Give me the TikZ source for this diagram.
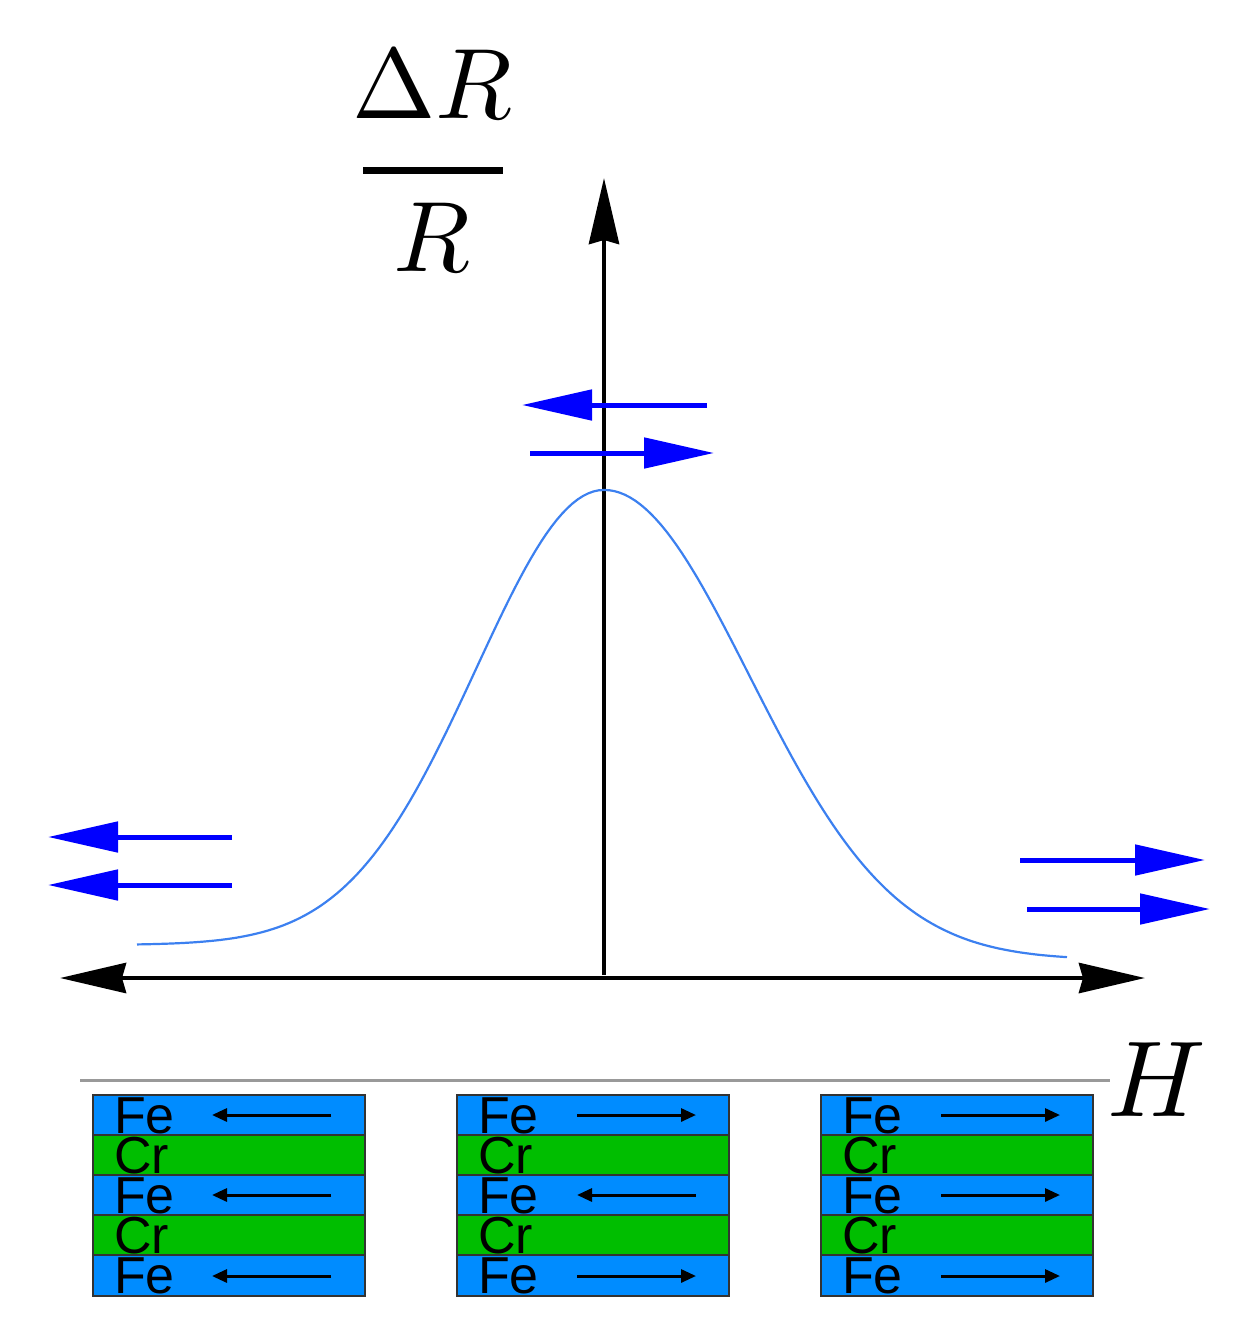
\documentclass[tikz,border=0pt]{standalone}
\usepackage{fontspec}
\usepackage{unicode-math}
\setmainfont{Liberation Sans}
\usetikzlibrary{arrows.meta}
\definecolor{curveblue}{RGB}{60,128,240}
\definecolor{feblue}{RGB}{0,140,255}
\definecolor{crgreen}{RGB}{0,190,0}
\tikzset{
  axis/.style={line width=4.5pt, -{Stealth[length=66pt,width=30pt,inset=4pt]}},
  magarrow/.style={line width=5pt, blue, -{Triangle[length=70pt,width=30pt]}},
  layerFe/.style={draw=black!80, line width=2.5pt, fill=feblue},
  layerCr/.style={draw=black!80, line width=2.5pt, fill=crgreen},
  elem/.style={font=\fontsize{52}{52}\selectfont, anchor=west, inner sep=0pt},
  spin/.style={line width=3pt, -{Triangle[length=15pt,width=13pt]}},
  bigmath/.style={inner sep=0pt, font=\fontsize{100}{100}\selectfont},
}
\begin{document}
\begin{tikzpicture}[x=1pt,y=-1pt]
\useasboundingbox (0,0) rectangle (1235,1344);
% axes
\coordinate (origin) at (604,975);
\coordinate (ytop) at (604,178);
\coordinate (xleft) at (60,978);
\coordinate (xright) at (1145,978);
\coordinate (xmid) at (604,978);
\draw[axis] (origin) -- (ytop);
\draw[axis] (xmid) -- (xleft);
\draw[axis] (xmid) -- (xright);
% label dR/R
\node[bigmath] (dR) at (433,84) {$\Delta R$};
\coordinate (fracL) at (363,170);
\coordinate (fracR) at (503,170);
\draw[line width=7pt] (fracL) -- (fracR);
\node[bigmath] (R) at (433,238) {$R$};
% H label and gray line
\coordinate (gl) at (80,1080);
\coordinate (gr) at (1110,1080);
\draw[gray!80, line width=3pt] (gl) -- (gr);
\node[inner sep=0pt, font=\fontsize{108}{108}\selectfont] (H) at (1157,1080) {$H$};
% curve
\draw[curveblue, line width=2.2pt]
  plot[domain=137:604, samples=90] (\x, {945-455*exp(-((\x-604)/128)^2/2)})
  -- plot[domain=604:1067, samples=90] (\x, {960-470*exp(-((\x-604)/145)^2/2)});
% blue arrows
\coordinate (a1s) at (707,405); \coordinate (a1e) at (522,405);
\coordinate (a2s) at (530,453); \coordinate (a2e) at (714,453);
\coordinate (a3s) at (232,837); \coordinate (a3e) at (48,837);
\coordinate (a4s) at (232,885); \coordinate (a4e) at (48,885);
\coordinate (a5s) at (1020,860); \coordinate (a5e) at (1205,860);
\coordinate (a6s) at (1027,909); \coordinate (a6e) at (1210,909);
\draw[magarrow] (a1s) -- (a1e);
\draw[magarrow] (a2s) -- (a2e);
\draw[magarrow] (a3s) -- (a3e);
\draw[magarrow] (a4s) -- (a4e);
\draw[magarrow] (a5s) -- (a5e);
\draw[magarrow] (a6s) -- (a6e);
% stacks
\foreach \i/\x in {1/93,2/457,3/821}{
  \draw[layerFe] (\x,1095) rectangle ++(272,40);
  \draw[layerCr] (\x,1135) rectangle ++(272,40);
  \draw[layerFe] (\x,1175) rectangle ++(272,40);
  \draw[layerCr] (\x,1215) rectangle ++(272,40);
  \draw[layerFe] (\x,1255) rectangle ++(272,41);
  \node[elem] (fe\i a) at (\x+21,1116) {Fe};
  \node[elem] (cr\i a) at (\x+21,1156) {Cr};
  \node[elem] (fe\i b) at (\x+21,1196) {Fe};
  \node[elem] (cr\i b) at (\x+21,1236) {Cr};
  \node[elem] (fe\i c) at (\x+21,1276) {Fe};
}
% spin arrows
\coordinate (s1a) at (331,1115); \coordinate (t1a) at (212,1115);
\coordinate (s1b) at (331,1195); \coordinate (t1b) at (212,1195);
\coordinate (s1c) at (331,1276); \coordinate (t1c) at (212,1276);
\coordinate (s2a) at (577,1115); \coordinate (t2a) at (696,1115);
\coordinate (s2b) at (696,1195); \coordinate (t2b) at (577,1195);
\coordinate (s2c) at (577,1276); \coordinate (t2c) at (696,1276);
\coordinate (s3a) at (941,1115); \coordinate (t3a) at (1060,1115);
\coordinate (s3b) at (941,1195); \coordinate (t3b) at (1060,1195);
\coordinate (s3c) at (941,1276); \coordinate (t3c) at (1060,1276);
\foreach \n in {1a,1b,1c,2a,2b,2c,3a,3b,3c}{\draw[spin] (s\n) -- (t\n);}
\end{tikzpicture}
\end{document}
